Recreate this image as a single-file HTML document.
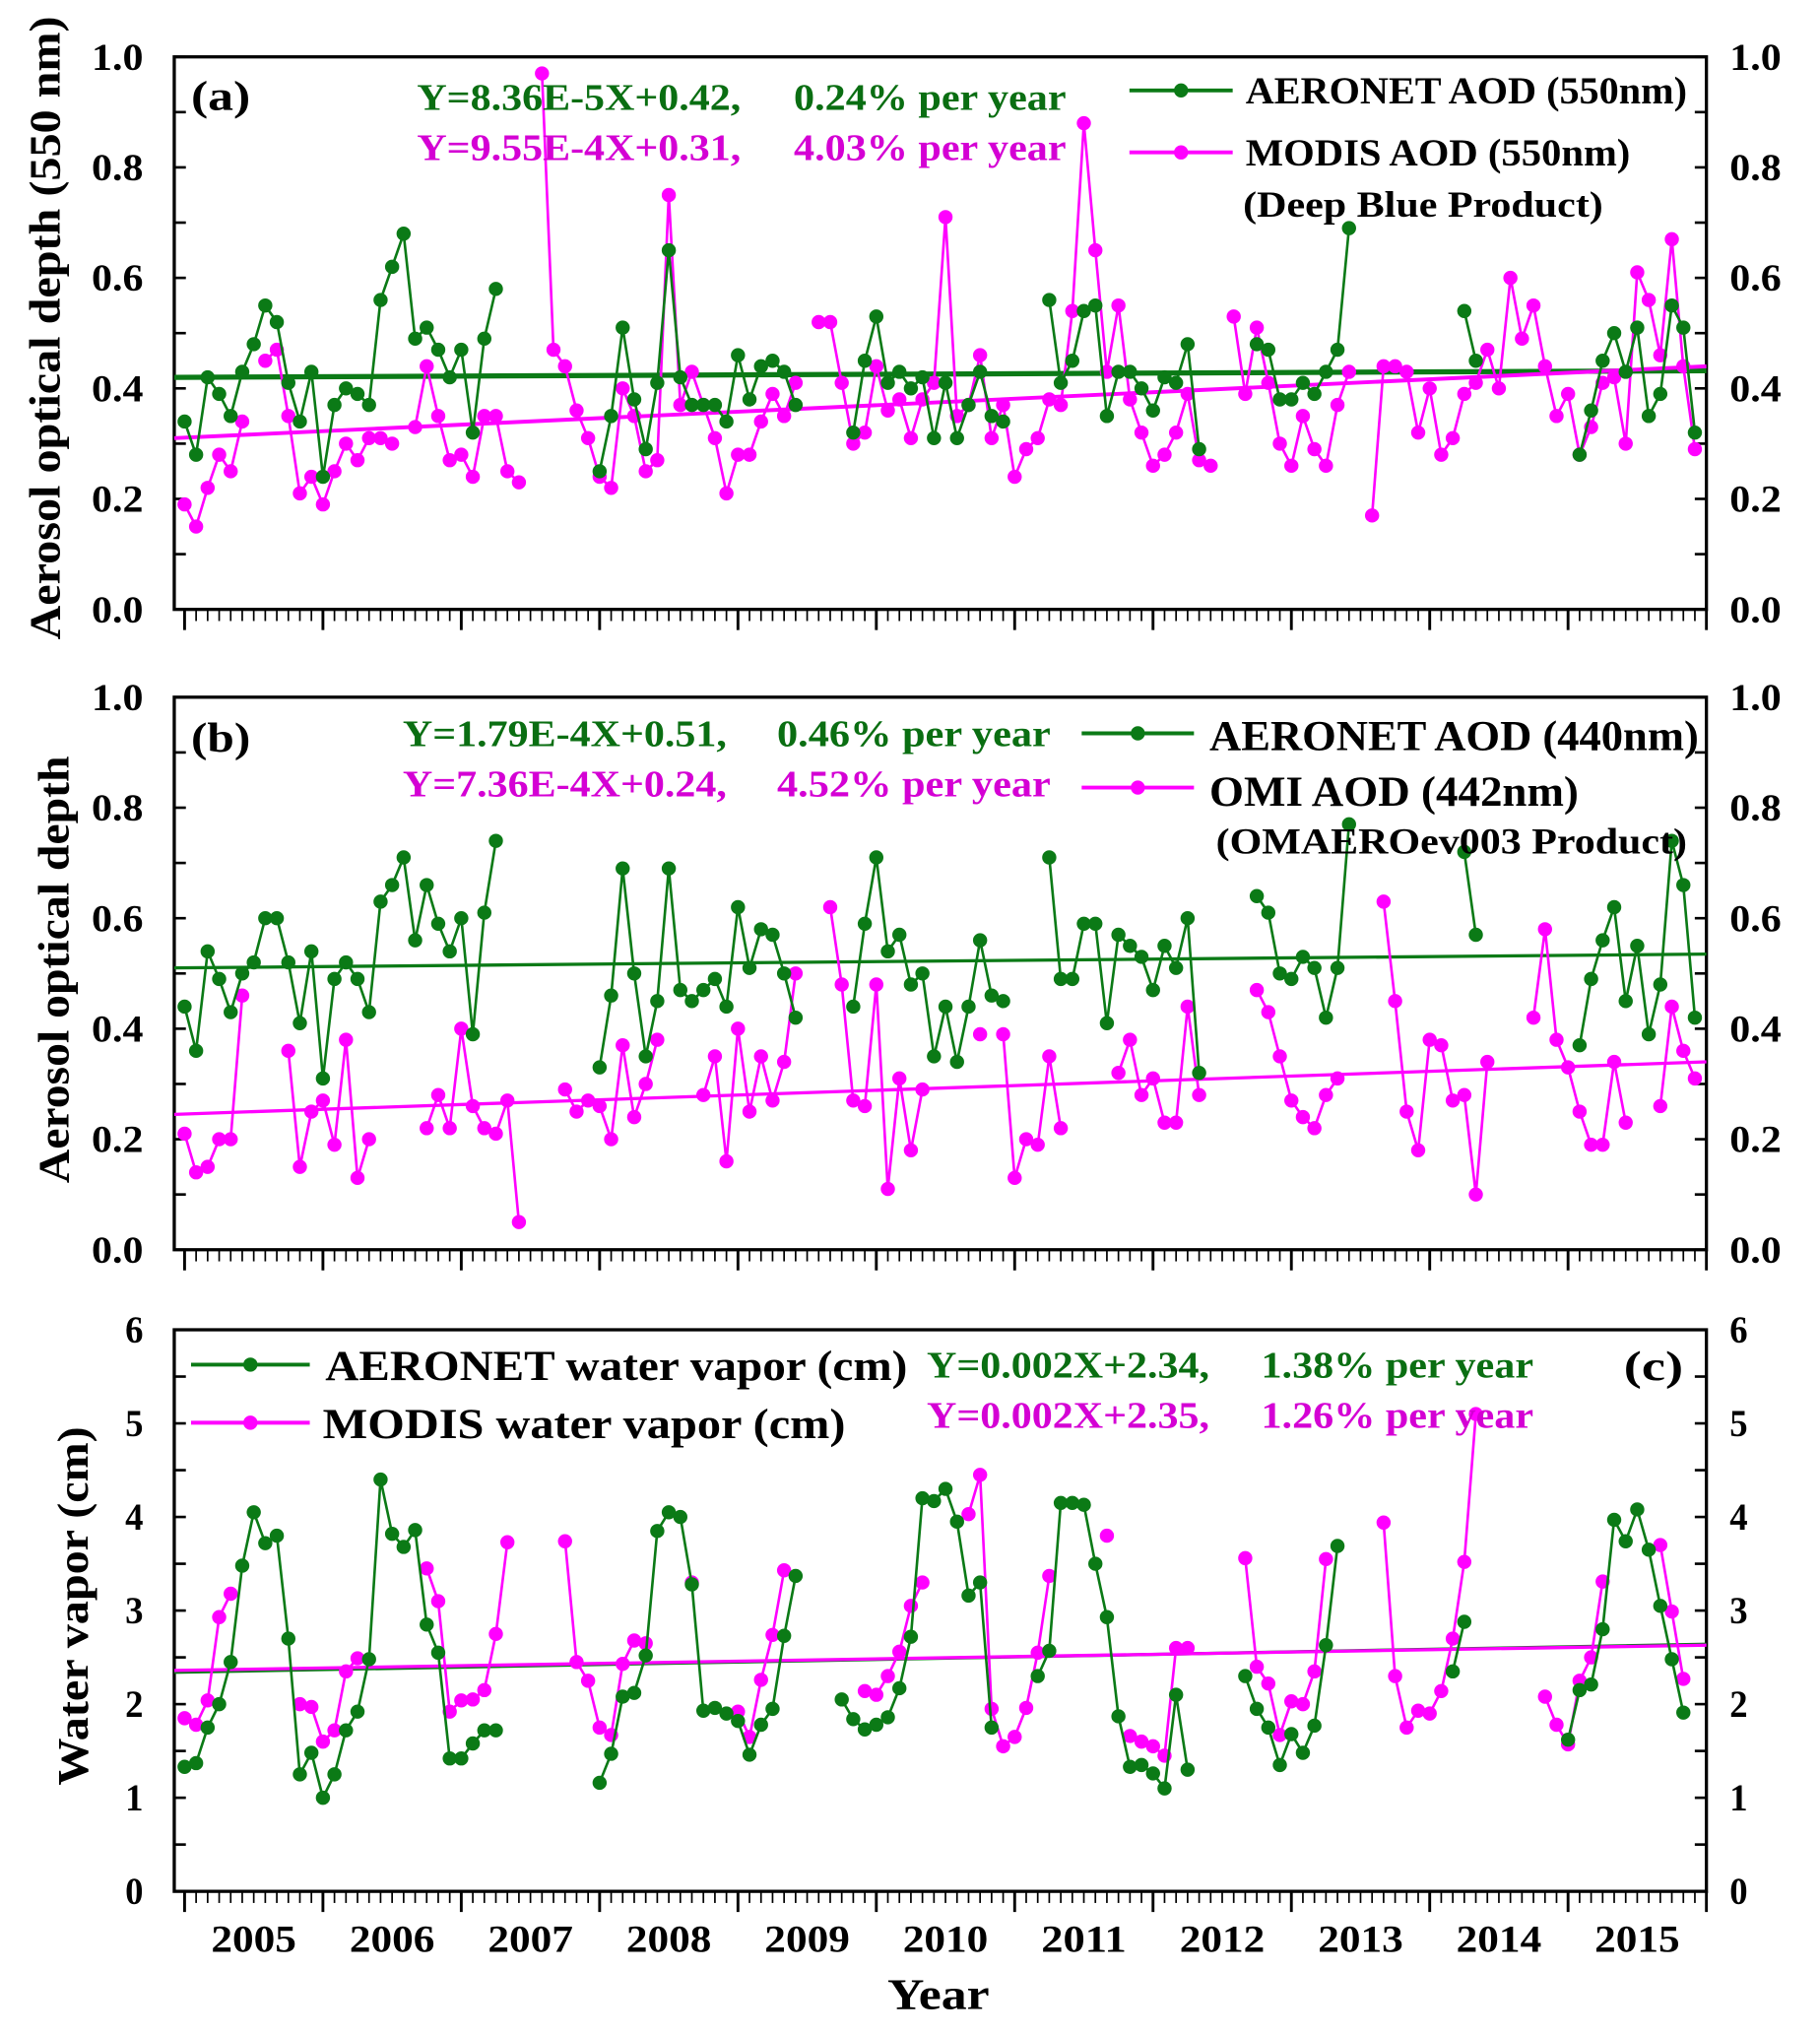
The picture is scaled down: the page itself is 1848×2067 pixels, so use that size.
<!DOCTYPE html>
<html><head><meta charset="utf-8"><style>
html,body{margin:0;padding:0;background:#fff;}
svg{display:block;}
text{font-family:"Liberation Serif",serif;font-weight:bold;}
</style></head><body>
<svg id="chart" width="1848" height="2067" viewBox="0 0 1410 1577" xmlns="http://www.w3.org/2000/svg">
<g id="g"></g>
</svg>
<script>
// ---- data (monthly index 0 = Jan 2005 ... 131 = Dec 2015), segments {startIndex:[values]} ----
const years = ["2005","2006","2007","2008","2009","2010","2011","2012","2013","2014","2015"];
const aodTicks = ["0.0","0.2","0.4","0.6","0.8","1.0"];
const wvTicks = ["0","1","2","3","4","5","6"];

const aeronet550 = {0:[.34,.28,.42,.39,.35,.43,.48,.55,.52,.41,.34,.43,.24,.37,.40,.39,.37,.56,.62,.68,.49,.51,.47,.42,.47,.32,.49,.58],
 36:[.25,.35,.51,.38,.29,.41,.65,.42,.37,.37,.37,.34,.46,.38,.44,.45,.43,.37],
 58:[.32,.45,.53,.41,.43,.40,.42,.31,.41,.31,.37,.43,.35,.34],
 75:[.56,.41,.45,.54,.55,.35,.43,.43,.40,.36,.42,.41,.48,.29],
 93:[.48,.47,.38,.38,.41,.39,.43,.47,.69],
 111:[.54,.45],
 121:[.28,.36,.45,.50,.43,.51,.35,.39,.55,.51,.32]};
const modis550 = {0:[.19,.15,.22,.28,.25,.34],7:[.45,.47,.35,.21,.24,.19,.25,.30,.27,.31,.31,.30],
 20:[.33,.44,.35,.27,.28,.24,.35,.35,.25,.23],
 31:[.97,.47,.44,.36,.31,.24,.22,.40,.35,.25,.27,.75,.37,.43,.37,.31,.21,.28,.28,.34,.39,.35,.41],
 55:[.52,.52,.41,.30,.32,.44,.36,.38,.31,.38,.41,.71,.35,.37,.46,.31,.37,.24,.29,.31,.38,.37,.54,.88,.65,.43,.55,.38,.32,.26,.28,.32,.39,.27,.26],
 91:[.53,.39,.51,.41,.30,.26,.35,.29,.26,.37,.43],
 103:[.17,.44,.44,.43,.32,.40,.28,.31,.39,.41,.47,.40,.60,.49,.55,.44,.35,.39,.28,.33,.41,.42,.30,.61,.56,.46,.67,.44,.29]};
const aeronet440 = {0:[.44,.36,.54,.49,.43,.50,.52,.60,.60,.52,.41,.54,.31,.49,.52,.49,.43,.63,.66,.71,.56,.66,.59,.54,.60,.39,.61,.74],
 36:[.33,.46,.69,.50,.35,.45,.69,.47,.45,.47,.49,.44,.62,.51,.58,.57,.50,.42],
 58:[.44,.59,.71,.54,.57,.48,.50,.35,.44,.34,.44,.56,.46,.45],
 75:[.71,.49,.49,.59,.59,.41,.57,.55,.53,.47,.55,.51,.60,.32],
 93:[.64,.61,.50,.49,.53,.51,.42,.51,.77],
 111:[.72,.57],
 121:[.37,.49,.56,.62,.45,.55,.39,.48,.74,.66,.42]};
const omi442 = {0:[.21,.14,.15,.20,.20,.46],9:[.36,.15,.25,.27,.19,.38,.13,.20],
 21:[.22,.28,.22,.40,.26,.22,.21,.27,.05],
 33:[.29,.25,.27,.26,.20,.37,.24,.30,.38],45:[.28,.35,.16,.40,.25,.35,.27,.34,.50],
 56:[.62,.48,.27,.26,.48,.11,.31,.18,.29],69:[.39],71:[.39,.13,.20,.19,.35,.22],
 81:[.32,.38,.28,.31,.23,.23,.44,.28],93:[.47,.43,.35,.27,.24,.22,.28,.31],
 104:[.63,.45,.25,.18,.38,.37,.27,.28,.10,.34],117:[.42,.58,.38,.33,.25,.19,.19,.34,.23],
 128:[.26,.44,.36,.31]};
const aeronetWV = {0:[1.33,1.37,1.75,2.0,2.45,3.48,4.05,3.72,3.80,2.70,1.25,1.48,1.0,1.25,1.72,1.92,2.48,4.40,3.82,3.68,3.86,2.85,2.55,1.42,1.42,1.58,1.72,1.72],
 36:[1.16,1.47,2.08,2.12,2.52,3.85,4.05,4.00,3.28,1.93,1.96,1.90,1.82,1.46,1.78,1.95,2.73,3.37],
 57:[2.05,1.84,1.73,1.78,1.86,2.17,2.72,4.20,4.17,4.30,3.95,3.16,3.30,1.75],
 74:[2.30,2.57,4.15,4.15,4.13,3.50,2.93,1.87,1.33,1.35,1.26,1.10,2.10,1.30],
 92:[2.30,1.95,1.75,1.35,1.68,1.48,1.77,2.63,3.69],
 110:[2.35,2.88],
 120:[1.62,2.15,2.21,2.80,3.97,3.74,4.08,3.65,3.05,2.48,1.91]};
const modisWV = {0:[1.85,1.78,2.04,2.93,3.18],10:[2.00,1.97,1.60,1.72,2.35,2.49],
 21:[3.45,3.10,1.92,2.04,2.05,2.15,2.75,3.73],33:[3.74,2.45,2.25,1.75,1.67,2.43,2.68,2.65],
 44:[3.30],48:[1.92,1.65,2.26,2.74,3.43],59:[2.14,2.10,2.30,2.56,3.05,3.30],
 68:[4.03,4.45,1.95,1.55,1.65,1.96,2.55,3.37],80:[3.80],82:[1.66,1.60,1.55,1.45,2.60,2.60],
 92:[3.56,2.40,2.22,1.67,2.03,2.00,2.35,3.55],104:[3.94,2.30,1.75,1.93,1.90,2.14,2.70,3.52,5.10],
 118:[2.08,1.78,1.57,2.25,2.50,3.31],128:[3.70,2.99,2.27]};
const trendA = {green:[0.42,0.432], magenta:[0.31,0.44]};
const trendB = {green:[0.51,0.535], magenta:[0.245,0.34]};
const trendC = {green:[2.34,2.64], magenta:[2.36,2.63]};

const NS="http://www.w3.org/2000/svg";
const G=document.getElementById('g');
const GREEN="#0b7a16", MAG="#ff00ff", MAGT="#d400d4", GREENT="#0a6e12";
const X0=135, X1=1322, M0=143, MSTEP=(1322-143)/132;
const xm = i => M0 + i*MSTEP;
function el(tag, attrs, parent){const e=document.createElementNS(NS,tag);for(const k in attrs)e.setAttribute(k,attrs[k]);(parent||G).appendChild(e);return e;}
function txt(s,x,y,size,fill,anchor,parent,len){const a={x:x,y:y,'font-size':size,fill:fill||'#000','text-anchor':anchor||'start'};
 if(len){a.textLength=len;a.lengthAdjust='spacingAndGlyphs';}
 const t=el('text',a,parent);t.textContent=s;return t;}

const panels=[
 {id:'a',top:44,bot:472,max:1,ticks:aodTicks,series:[[aeronet550,GREEN,'aeronet-550-series'],[modis550,MAG,'modis-550-series']],trend:trendA,tw:[4,3]},
 {id:'b',top:540,bot:968,max:1,ticks:aodTicks,series:[[aeronet440,GREEN,'aeronet-440-series'],[omi442,MAG,'omi-442-series']],trend:trendB,tw:[2.5,2.5]},
 {id:'c',top:1030,bot:1465,max:6,ticks:wvTicks,series:[[aeronetWV,GREEN,'aeronet-wv-series'],[modisWV,MAG,'modis-wv-series']],trend:trendC,tw:[2.5,2.5]}
];
panels.forEach(p=>{
 const y = v => p.bot - v/p.max*(p.bot-p.top);
 const pg=el('g',{});
 
 
 const fr=el('rect',{x:X0,y:p.top,width:X1-X0,height:p.bot-p.top,fill:'none',stroke:'#000','stroke-width':2.5},pg);
 
 
 const nmin = p.max===1?10:12;
 for(let k=0;k<=nmin;k++){const v=k*p.max/nmin;const yy=y(v);
  el('line',{x1:X0,x2:X0+9,y1:yy,y2:yy,stroke:'#000','stroke-width':2},pg);
  el('line',{x1:X1,x2:X1-9,y1:yy,y2:yy,stroke:'#000','stroke-width':2},pg);}
 p.ticks.forEach((s,k)=>{const v=(p.max===1)?k*0.2:k;const yy=y(v)+10;
  const w = s.length===3?40:14;
  const a=txt(s,111,yy,30,'#000','end',pg,w);
  
  
  const b=txt(s,1340,yy,30,'#000','start',pg,w);
  
  
 });
 for(let i=0;i<=132;i++){const xx=xm(i);const maj=i%12===0;
  el('line',{x1:xx,x2:xx,y1:p.bot,y2:p.bot+(maj?16:9),stroke:'#000','stroke-width':maj?2.2:1.3},pg);}
 const tg=el('line',{x1:X0,x2:X1,y1:y(p.trend.green[0]),y2:y(p.trend.green[1]),stroke:GREEN,'stroke-width':p.tw[0]},pg);
 
 
 const tm=el('line',{x1:X0,x2:X1,y1:y(p.trend.magenta[0]),y2:y(p.trend.magenta[1]),stroke:MAG,'stroke-width':p.tw[1]},pg);
 
 
 p.series.slice().reverse().forEach(([data,col,name])=>{
  const sg=el('g',{},pg);
  
  
  for(const st in data){const arr=data[st];const s0=+st;
   const pts=arr.map((v,j)=>xm(s0+j).toFixed(1)+','+y(v).toFixed(1)).join(' ');
   const pl=el('polyline',{points:pts,fill:'none',stroke:col,'stroke-width':2},sg);
   
   
   arr.forEach((v,j)=>{const c=el('circle',{cx:xm(s0+j),cy:y(v),r:5.5,fill:col},sg);
    
    });
  }
 });
});
years.forEach((s,k)=>{const t=txt(s,xm(k*12+6),1512,30,'#000','middle',null,66);
 
 });
const xt=txt('Year',727,1556,34,'#000','middle',null,79);


function rot(s,x,y,size,name,len){const t=txt(s,x,y,size,'#000','middle',null,len);t.setAttribute('transform','rotate(-90 '+x+' '+y+')');
 
 }
rot('Aerosol optical depth (550 nm)',46,254,34,'y-axis-title-a',483);
rot('Aerosol optical depth',53,751,34,'y-axis-title-b',331);
rot('Water vapor (cm)',68,1244,34,'y-axis-title-c',278);
function lab(s,x,y,size,fill,name,len){const t=txt(s,x,y,size,fill,'start',null,len);}
function leg(x1,x2,yy,col,name){const g=el('g',{});
 el('line',{x1:x1,x2:x2,y1:yy,y2:yy,stroke:col,'stroke-width':3},g);el('circle',{cx:(x1+x2)/2,cy:yy,r:5.5,fill:col},g);}
// panel a
lab('(a)',148,85,32,'#000','panel-label-a',46);
lab('Y=8.36E-5X+0.42,',323,85,29,GREENT,'equation-aeronet-a',251);
lab('0.24% per year',615,85,29,GREENT,'rate-aeronet-a',211);
lab('Y=9.55E-4X+0.31,',323,124,29,MAGT,'equation-modis-a',251);
lab('4.03% per year',615,124,29,MAGT,'rate-modis-a',211);
leg(875,955,70,GREEN,'legend-aeronet-550');
lab('AERONET AOD (550nm)',965,80,30,'#000','legend-label-aeronet-550',342);
leg(875,955,118,MAG,'legend-modis-550');
lab('MODIS AOD (550nm)',965,128,30,'#000','legend-label-modis-550',298);
lab('(Deep Blue Product)',963,168,28,'#000','legend-note-deep-blue',279);
// panel b
lab('(b)',148,582,32,'#000','panel-label-b',46);
lab('Y=1.79E-4X+0.51,',312,578,29,GREENT,'equation-aeronet-b',251);
lab('0.46% per year',602,578,29,GREENT,'rate-aeronet-b',212);
lab('Y=7.36E-4X+0.24,',312,617,29,MAGT,'equation-omi-b',251);
lab('4.52% per year',602,617,29,MAGT,'rate-omi-b',212);
leg(838,925,568,GREEN,'legend-aeronet-440');
lab('AERONET AOD (440nm)',937,581,33,'#000','legend-label-aeronet-440',379);
leg(838,925,610,MAG,'legend-omi-442');
lab('OMI AOD (442nm)',937,624,33,'#000','legend-label-omi-442',286);
lab('(OMAEROev003 Product)',942,661,28,'#000','legend-note-omaero',365);
// panel c
leg(148,240,1057,GREEN,'legend-aeronet-wv');
lab('AERONET water vapor (cm)',252,1069,33,'#000','legend-label-aeronet-wv',451);
leg(148,240,1102,MAG,'legend-modis-wv');
lab('MODIS water vapor (cm)',250,1114,33,'#000','legend-label-modis-wv',405);
lab('Y=0.002X+2.34,',718,1067,29,GREENT,'equation-aeronet-c',219);
lab('1.38% per year',977,1067,29,GREENT,'rate-aeronet-c',211);
lab('Y=0.002X+2.35,',718,1106,29,MAGT,'equation-modis-c',219);
lab('1.26% per year',977,1106,29,MAGT,'rate-modis-c',211);
lab('(c)',1258,1069,32,'#000','panel-label-c',46);
</script>
</body></html>
